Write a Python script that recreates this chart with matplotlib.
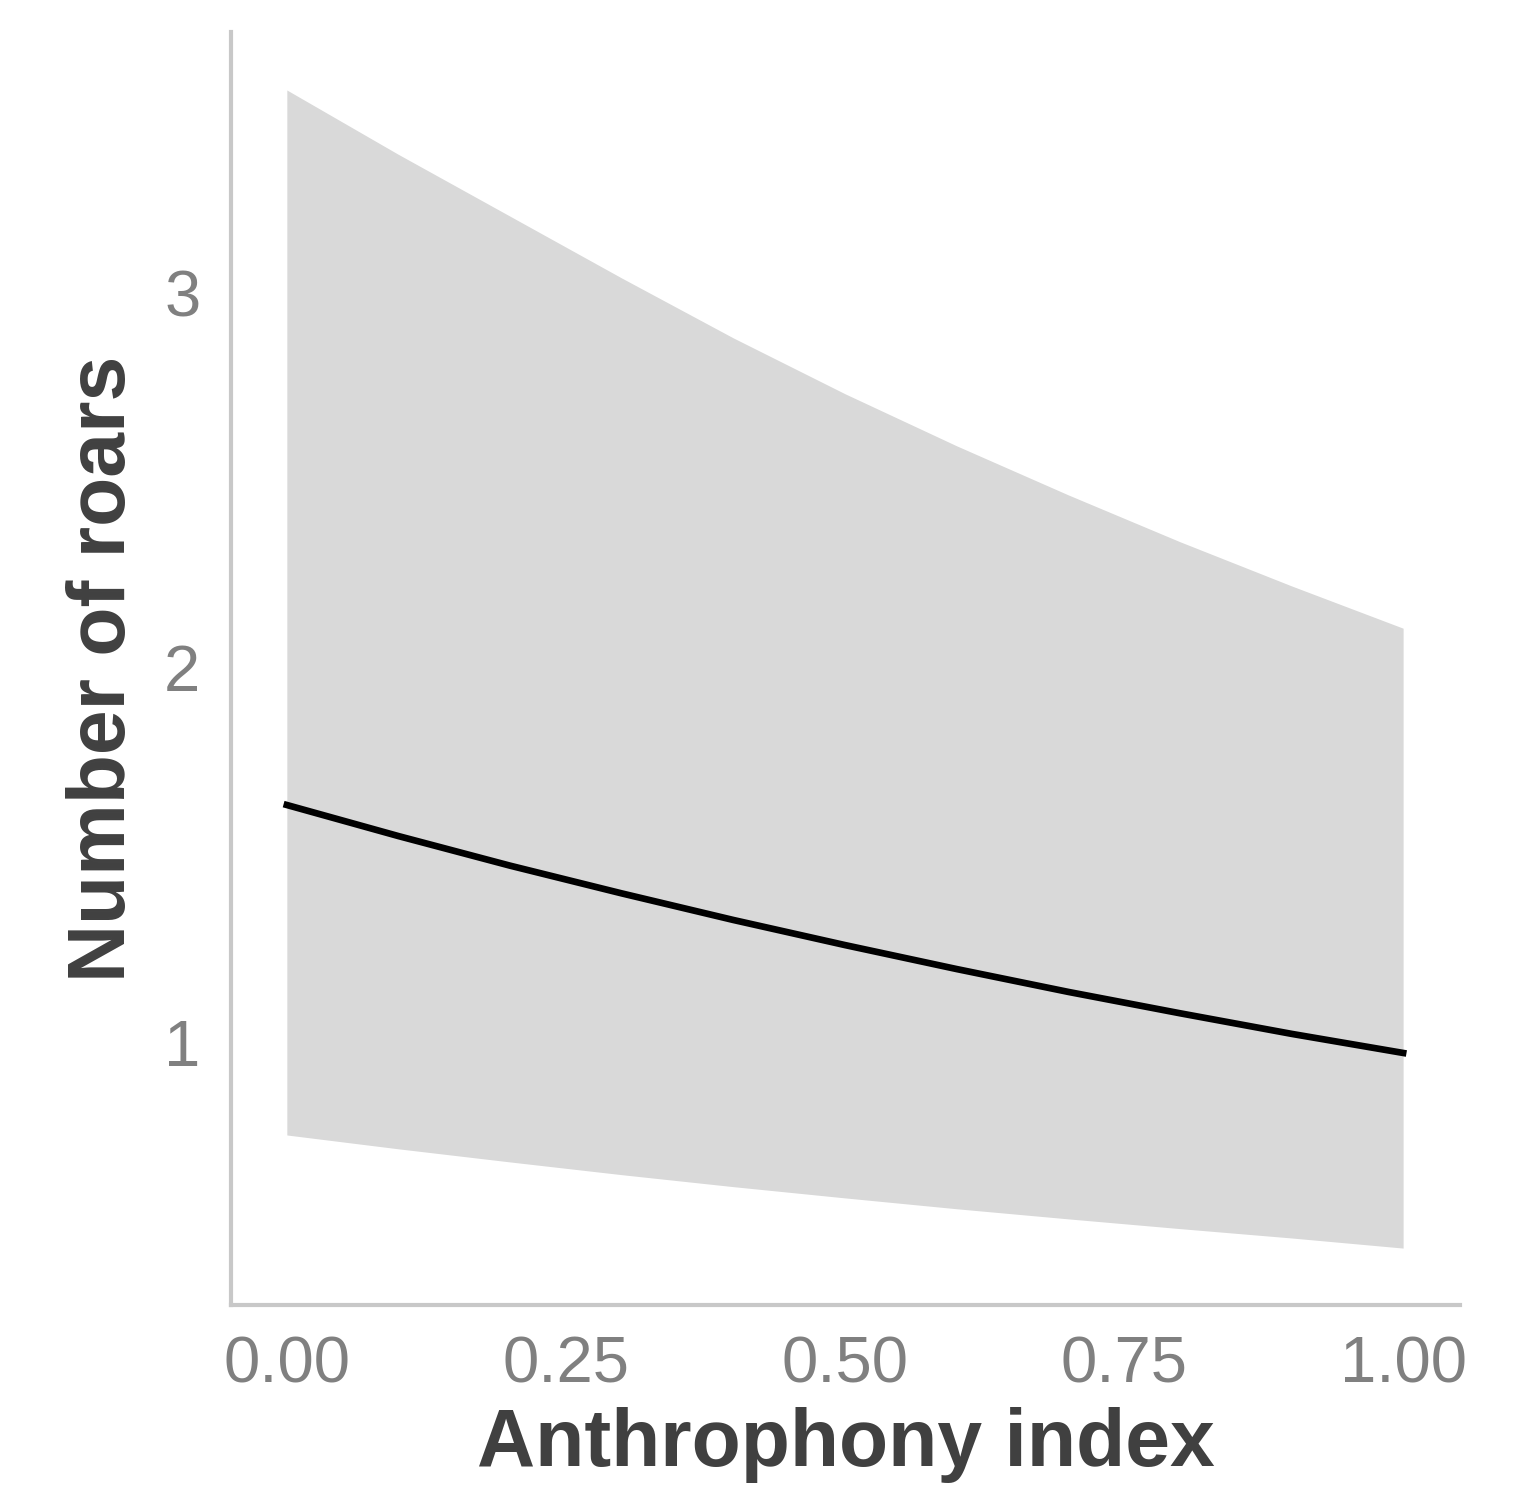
import matplotlib.pyplot as plt
import numpy as np

# predicted number of roars vs anthrophony index, with 95% band
anthrophony = [0.0, 0.1, 0.2, 0.3, 0.4, 0.5, 0.6, 0.7, 0.8, 0.9, 1.0]
roars_fit = [1.633, 1.550, 1.471, 1.397, 1.326, 1.259, 1.195, 1.134, 1.077, 1.022, 0.971]
roars_upper = [3.542, 3.370, 3.205, 3.040, 2.880, 2.731, 2.592, 2.461, 2.336, 2.218, 2.105]
roars_lower = [0.752, 0.715, 0.680, 0.646, 0.614, 0.584, 0.555, 0.528, 0.502, 0.477, 0.450]

xticks = [0.0, 0.25, 0.5, 0.75, 1.0]
xtick_labels = ["0.00", "0.25", "0.50", "0.75", "1.00"]
yticks = [1, 2, 3]

plt.rcParams['font.family'] = ['Liberation Sans', 'DejaVu Sans']

fig = plt.figure(figsize=(15.34, 14.85), dpi=100)
ax = fig.add_axes([0.1506, 0.1212, 0.8012, 0.8573])

ax.fill_between(anthrophony, roars_lower, roars_upper, color='#d9d9d9', lw=0)
ax.plot(anthrophony, roars_fit, color='black', lw=4.8)

ax.set_xlim(-0.05, 1.051)
ax.set_ylim(0.298, 3.697)
ax.set_xticks(xticks)
ax.set_xticklabels(xtick_labels)
ax.set_yticks(yticks)

for s in ['top', 'right']:
    ax.spines[s].set_visible(False)
for s in ['left', 'bottom']:
    ax.spines[s].set_color('#c8c8c8')
    ax.spines[s].set_linewidth(3)

ax.tick_params(axis='both', length=0, labelsize=47, labelcolor='#808080')
ax.tick_params(axis='x', pad=22)
ax.tick_params(axis='y', pad=22)

ax.set_xlabel("Anthrophony index", fontsize=58, fontweight='bold', color='#404040', labelpad=8)
ax.set_ylabel("Number of roars", fontsize=58, fontweight='bold', color='#404040', labelpad=16)

fig.savefig("out.png", dpi=100)
